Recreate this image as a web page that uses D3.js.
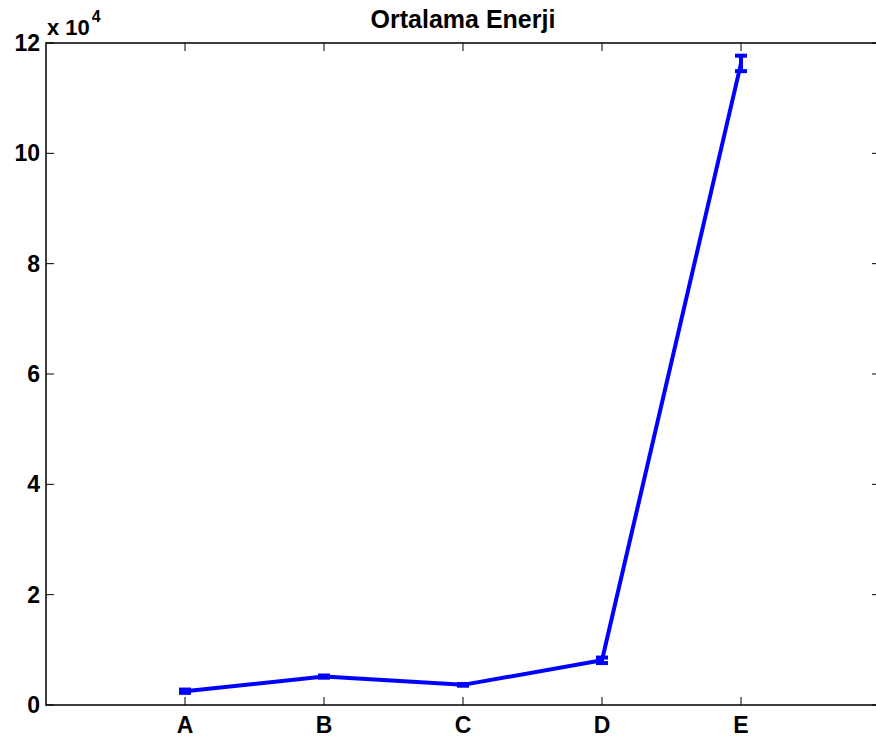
<!DOCTYPE html>
<html>
<head>
<meta charset="utf-8">
<script src="https://cdn.jsdelivr.net/npm/d3@7"></script>
<style>
  html, body { margin: 0; padding: 0; background: #fff; }
  svg { display: block; font-family: "Liberation Sans", Arial, sans-serif; }
</style>
</head>
<body>
<svg id="chart" width="876" height="742"></svg>
<script>
// Mean energy per group with error bar half-widths
const categories = ["A", "B", "C", "D", "E"];
const means = [2500, 5150, 3650, 8100, 116300];
const errors = [300, 200, 150, 500, 1400];
const yTicks = [0, 20000, 40000, 60000, 80000, 100000, 120000];
const yTickLabels = ["0", "2", "4", "6", "8", "10", "12"];
const titleText = "Ortalama Enerji";

const svg = d3.select("#chart");
const plot = { left: 46, right: 880, top: 43, bottom: 705 };

const x = d3.scaleLinear().domain([0, categories.length + 1]).range([plot.left, plot.right]);
const y = d3.scaleLinear().domain([0, 120000]).range([plot.bottom, plot.top]);

const data = categories.map((c, i) => ({ c, i: i + 1, m: means[i], e: errors[i] }));

// Ticks (inside on all four sides)
const tickLen = 8;
const g = svg.append("g").attr("stroke", "#000").attr("stroke-width", 1);
data.forEach(d => {
  const px = x(d.i);
  g.append("line").attr("x1", px).attr("x2", px).attr("y1", plot.bottom).attr("y2", plot.bottom - tickLen);
  g.append("line").attr("x1", px).attr("x2", px).attr("y1", plot.top).attr("y2", plot.top + tickLen);
});
yTicks.forEach(t => {
  const py = y(t);
  g.append("line").attr("x1", plot.left).attr("x2", plot.left + tickLen).attr("y1", py).attr("y2", py);
  g.append("line").attr("x1", plot.right).attr("x2", plot.right - tickLen).attr("y1", py).attr("y2", py);
});

// Axes box
svg.append("rect").attr("x", plot.left).attr("y", plot.top)
  .attr("width", plot.right - plot.left).attr("height", plot.bottom - plot.top)
  .attr("fill", "none").attr("stroke", "#000").attr("stroke-width", 1.5);

// Tick labels
svg.append("g").selectAll("text").data(data).join("text")
  .attr("x", d => x(d.i)).attr("y", plot.bottom + 28)
  .attr("text-anchor", "middle").attr("font-size", 23).attr("font-weight", "bold")
  .text(d => d.c);

svg.append("g").selectAll("text").data(yTicks).join("text")
  .attr("x", plot.left - 6).attr("y", d => y(d) + 8)
  .attr("text-anchor", "end").attr("font-size", 23).attr("font-weight", "bold")
  .text((d, i) => yTickLabels[i]);

// Exponent label
const ex = svg.append("text").attr("x", 47).attr("y", 35)
  .attr("font-size", 22).attr("font-weight", "bold");
ex.append("tspan").text("x 10");
ex.append("tspan").attr("dy", -13).attr("dx", 2).attr("font-size", 16).text("4");

// Title
svg.append("text").attr("x", (plot.left + plot.right) / 2).attr("y", 28)
  .attr("text-anchor", "middle").attr("font-size", 25).attr("font-weight", "bold")
  .text(titleText);

// Mean line
const blue = "#0000ff";
svg.append("path").datum(data)
  .attr("d", d3.line().x(d => x(d.i)).y(d => y(d.m)))
  .attr("fill", "none").attr("stroke", blue).attr("stroke-width", 4)
  .attr("stroke-linejoin", "miter");

// Error bars
const cap = 6;
const eb = svg.append("g").attr("stroke", blue).attr("stroke-width", 4).attr("fill", "none");
data.forEach(d => {
  const px = x(d.i);
  eb.append("line").attr("x1", px).attr("x2", px).attr("y1", y(d.m - d.e)).attr("y2", y(d.m + d.e));
  eb.append("line").attr("x1", px - cap).attr("x2", px + cap).attr("y1", y(d.m - d.e)).attr("y2", y(d.m - d.e));
  eb.append("line").attr("x1", px - cap).attr("x2", px + cap).attr("y1", y(d.m + d.e)).attr("y2", y(d.m + d.e));
});
</script>
</body>
</html>
